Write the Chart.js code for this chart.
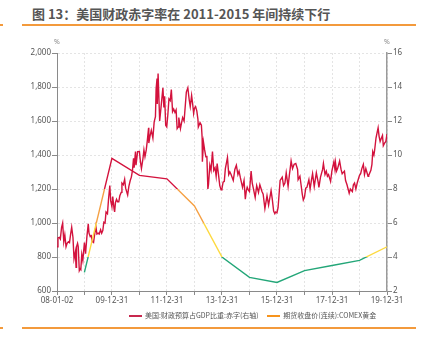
<!DOCTYPE html>
<html>
<head>
<meta charset="utf-8">
<script src="https://cdn.jsdelivr.net/npm/chart.js@4.4.1/dist/chart.umd.min.js"></script>
<style>
  body { margin: 0; background: #fff; }
  #wrap { position: relative; width: 426px; height: 350px; overflow: hidden; font-family: "Noto Sans CJK SC", "Noto Sans", sans-serif; }
  #title { position: absolute; left: 32px; top: 4px; font-size: 13px; font-weight: bold; color: #555; white-space: nowrap; }
  .rule { position: absolute; height: 1.5px; background: #f39a3c; }
  #my-chart { position: absolute; left: 0; top: 30px; }
  #legend { position: absolute; top: 309px; left: 129px; font-size: 7px; color: #555; white-space: nowrap; line-height: 12px; }
  #legend span.sw { display: inline-block; width: 13px; height: 2px; vertical-align: middle; margin-right: 3px; }
  #legend span.item { margin-right: 7px; }
</style>
</head>
<body>
<div id="wrap">
  <div id="title">图 13：美国财政赤字率在 2011-2015 年间持续下行</div>
  <div class="rule" style="left:0;top:24px;width:3px"></div>
  <div class="rule" style="left:22px;top:24px;width:394px"></div>
  <canvas id="my-chart" width="426" height="280"></canvas>
  <div id="legend">
    <span class="item"><span class="sw" style="background:#c8284e"></span>美国:财政预算占GDP比重:赤字(右轴)</span>
    <span class="item"><span class="sw" style="background:#f7941d"></span>期货收盘价(连续):COMEX黄金</span>
  </div>
  <div class="rule" style="left:0;top:327px;width:3px"></div>
  <div class="rule" style="left:22px;top:327px;width:394px"></div>
</div>
<script>
'use strict';

// *** Data ***

let tickDates = ['2008-01-02', '2008-12-31', '2009-12-31', '2010-12-31', '2011-12-31', '2012-12-31', '2013-12-31',
  '2014-12-31', '2015-12-31', '2016-12-31', '2017-12-31', '2018-12-31', '2019-12-31'];
let tickLabels = ['08-01-02', '08-12-31', '09-12-31', '10-12-31', '11-12-31', '12-12-31', '13-12-31',
  '14-12-31', '15-12-31', '16-12-31', '17-12-31', '18-12-31', '19-12-31'];

// deficit as % of GDP (right axis)
let deficitDates = ['2008-12-31', '2009-12-31', '2010-12-31', '2011-12-31', '2012-12-31', '2013-12-31',
  '2014-12-31', '2015-12-31', '2016-12-31', '2017-12-31', '2018-12-31', '2019-12-31'];
let deficitValues = [3.1, 9.8, 8.8, 8.6, 7.0, 4.0, 2.8, 2.5, 3.2, 3.5, 3.8, 4.6];

// COMEX gold close (left axis)
let goldDates = [
  '2008-01-02', '2008-01-15', '2008-02-01', '2008-02-15', '2008-03-03', '2008-03-17', '2008-04-01', '2008-04-15',
  '2008-05-01', '2008-05-15', '2008-06-02', '2008-06-16', '2008-07-01', '2008-07-15', '2008-08-01', '2008-08-15',
  '2008-09-02', '2008-09-11', '2008-09-17', '2008-10-01', '2008-10-10', '2008-10-24', '2008-11-03', '2008-11-13',
  '2008-11-26', '2008-12-10', '2008-12-31',
  '2009-01-15', '2009-02-02', '2009-02-20', '2009-03-02', '2009-03-18', '2009-04-01', '2009-04-15', '2009-05-01',
  '2009-05-15', '2009-06-01', '2009-06-15', '2009-07-01', '2009-07-15', '2009-08-03', '2009-08-17', '2009-09-01',
  '2009-09-15', '2009-10-01', '2009-10-14', '2009-11-02', '2009-11-16', '2009-12-03', '2009-12-15', '2009-12-31',
  '2010-01-11', '2010-01-28', '2010-02-05', '2010-02-16', '2010-03-02', '2010-03-16', '2010-04-01', '2010-04-15',
  '2010-05-03', '2010-05-13', '2010-06-01', '2010-06-18', '2010-07-01', '2010-07-28', '2010-08-13', '2010-08-31',
  '2010-09-15', '2010-09-30', '2010-10-14', '2010-10-22', '2010-11-09', '2010-11-16', '2010-12-07', '2010-12-31',
  '2011-01-14', '2011-01-27', '2011-02-15', '2011-03-01', '2011-03-15', '2011-04-01', '2011-04-15', '2011-05-02',
  '2011-05-05', '2011-05-20', '2011-06-07', '2011-06-28', '2011-07-15', '2011-08-01', '2011-08-10', '2011-08-22',
  '2011-08-25', '2011-09-05', '2011-09-26', '2011-10-05', '2011-10-14', '2011-11-08', '2011-11-21', '2011-12-01',
  '2011-12-15', '2011-12-29',
  '2012-01-13', '2012-01-27', '2012-02-13', '2012-02-28', '2012-03-15', '2012-03-30', '2012-04-16', '2012-05-01',
  '2012-05-15', '2012-05-30', '2012-06-06', '2012-06-28', '2012-07-13', '2012-07-27', '2012-08-15', '2012-08-31',
  '2012-09-14', '2012-10-04', '2012-10-22', '2012-11-05', '2012-11-23', '2012-12-07', '2012-12-20', '2012-12-31',
  '2013-01-15', '2013-01-31', '2013-02-15', '2013-02-20', '2013-03-15', '2013-04-02', '2013-04-12', '2013-04-15',
  '2013-04-30', '2013-05-15', '2013-05-31', '2013-06-14', '2013-06-27', '2013-07-05', '2013-07-23', '2013-08-08',
  '2013-08-27', '2013-09-13', '2013-09-30', '2013-10-15', '2013-10-28', '2013-11-15', '2013-12-02', '2013-12-19',
  '2013-12-31',
  '2014-01-15', '2014-01-31', '2014-02-14', '2014-03-14', '2014-03-31', '2014-04-15', '2014-05-01', '2014-05-30',
  '2014-06-20', '2014-07-10', '2014-07-31', '2014-08-15', '2014-09-02', '2014-09-30', '2014-10-20', '2014-11-06',
  '2014-11-20', '2014-12-01', '2014-12-15', '2014-12-31',
  '2015-01-22', '2015-02-06', '2015-02-20', '2015-03-17', '2015-04-06', '2015-04-30', '2015-05-18', '2015-06-15',
  '2015-07-01', '2015-07-24', '2015-08-21', '2015-09-11', '2015-10-14', '2015-10-30', '2015-11-17', '2015-12-03',
  '2015-12-15', '2015-12-31',
  '2016-01-15', '2016-02-11', '2016-03-10', '2016-03-28', '2016-04-15', '2016-05-02', '2016-05-27', '2016-06-15',
  '2016-06-24', '2016-07-06', '2016-07-25', '2016-08-15', '2016-09-06', '2016-09-30', '2016-10-07', '2016-10-31',
  '2016-11-15', '2016-12-01', '2016-12-15', '2016-12-31',
  '2017-01-16', '2017-02-01', '2017-02-27', '2017-03-15', '2017-04-03', '2017-04-17', '2017-05-09', '2017-06-06',
  '2017-06-30', '2017-07-10', '2017-07-31', '2017-08-28', '2017-09-08', '2017-09-29', '2017-10-16', '2017-10-31',
  '2017-11-15', '2017-12-12', '2017-12-29',
  '2018-01-25', '2018-02-08', '2018-02-15', '2018-03-01', '2018-03-15', '2018-04-11', '2018-04-30', '2018-05-15',
  '2018-06-14', '2018-06-29', '2018-07-18', '2018-08-16', '2018-08-31', '2018-09-27', '2018-10-11', '2018-10-26',
  '2018-11-13', '2018-12-03', '2018-12-31',
  '2019-01-15', '2019-01-31', '2019-02-20', '2019-03-07', '2019-03-25', '2019-04-23', '2019-05-02', '2019-05-31',
  '2019-06-14', '2019-06-25', '2019-07-10', '2019-07-19', '2019-08-07', '2019-08-23', '2019-09-04', '2019-09-17',
  '2019-10-01', '2019-10-14', '2019-11-01', '2019-11-12', '2019-11-29', '2019-12-16', '2019-12-31'
];
let goldValues = [
  860, 912, 915, 905, 975, 1000, 890, 930,
  860, 880, 890, 885, 935, 975, 915, 790,
  830, 740, 860, 880, 860, 720, 730, 725,
  815, 780, 885,
  820, 920, 995, 940, 920, 925, 890, 885,
  930, 980, 935, 940, 935, 960, 940, 955,
  1005, 1000, 1065, 1055, 1140, 1220, 1130, 1096,
  1155, 1085, 1065, 1120, 1140, 1125, 1125, 1160,
  1180, 1235, 1225, 1257, 1205, 1165, 1215, 1250,
  1270, 1310, 1380, 1325, 1420, 1340, 1420, 1421,
  1360, 1320, 1375, 1430, 1390, 1430, 1485, 1560,
  1470, 1510, 1545, 1500, 1595, 1625, 1790, 1850,
  1700, 1880, 1600, 1640, 1680, 1795, 1680, 1745,
  1575, 1565,
  1640, 1730, 1720, 1785, 1655, 1670, 1650, 1665,
  1555, 1565, 1620, 1555, 1590, 1620, 1600, 1690,
  1770, 1795, 1725, 1685, 1750, 1700, 1645, 1675,
  1685, 1660, 1610, 1565, 1590, 1575, 1500, 1360,
  1475, 1430, 1390, 1390, 1200, 1225, 1340, 1310,
  1420, 1310, 1325, 1275, 1350, 1285, 1220, 1195,
  1202,
  1240, 1245, 1320, 1385, 1285, 1300, 1285, 1250,
  1315, 1340, 1285, 1305, 1265, 1210, 1250, 1140,
  1190, 1210, 1195, 1185,
  1305, 1235, 1205, 1150, 1220, 1180, 1225, 1185,
  1170, 1085, 1160, 1105, 1190, 1140, 1070, 1055,
  1065, 1060,
  1090, 1250, 1270, 1220, 1235, 1295, 1215, 1290,
  1320, 1365, 1320, 1345, 1350, 1315, 1255, 1275,
  1225, 1170, 1135, 1152,
  1205, 1210, 1255, 1200, 1255, 1290, 1215, 1295,
  1240, 1210, 1270, 1315, 1350, 1285, 1305, 1275,
  1285, 1245, 1305,
  1360, 1315, 1355, 1305, 1320, 1365, 1315, 1290,
  1305, 1250, 1225, 1175, 1200, 1185, 1225, 1235,
  1200, 1240, 1280,
  1290, 1320, 1345, 1285, 1320, 1275, 1280, 1310,
  1345, 1420, 1400, 1425, 1500, 1535, 1560, 1510,
  1480, 1495, 1515, 1455, 1470, 1480, 1523
];

let leftTicks = [600, 800, 1000, 1200, 1400, 1600, 1800, 2000];
let rightTicks = [2, 4, 6, 8, 10, 12, 14, 16];

// *** Colors ***

let crimson = '#d3123d';
let orange = '#f5a043';
let yellow = '#fdd93f';
let green = '#23a678';

// *** Helpers ***

function toPoints(dates, values) {
  let pts = [];
  for (let i = 0; i < dates.length; i++) {
    pts.push({ x: Date.parse(dates[i]), y: values[i] });
  }
  return pts;
}

// piecewise color by deficit level: >8 red, 6-8 orange, 4-6 yellow, <4 green
function deficitGradient(context) {
  let chart = context.chart;
  if (!chart.chartArea) {
    return crimson;
  }
  let sc = chart.scales.y1;
  let top = sc.getPixelForValue(16);
  let bot = sc.getPixelForValue(2);
  let g = chart.ctx.createLinearGradient(0, top, 0, bot);
  let f = (v) => (16 - v) / 14;
  g.addColorStop(0, crimson);
  g.addColorStop(f(8), crimson);
  g.addColorStop(f(8), orange);
  g.addColorStop(f(6), orange);
  g.addColorStop(f(6), yellow);
  g.addColorStop(f(4), yellow);
  g.addColorStop(f(4), green);
  g.addColorStop(1, green);
  return g;
}

// draws the "%" unit above each y axis
let unitPlugin = {
  id: 'units',
  afterDraw(chart) {
    let c = chart.ctx;
    c.save();
    c.fillStyle = '#888';
    c.font = '7px "Noto Sans"';
    c.textAlign = 'center';
    c.textBaseline = 'middle';
    c.fillText('%', chart.scales.y.right, 12);
    c.fillText('%', chart.scales.y1.left, 12);
    c.restore();
  }
};

let tickFont = { family: '"Noto Sans"', size: 8 };
let axisGray = '#8a8a8a';

// *** Chart ***

let ctx = document.getElementById('my-chart');

new Chart(ctx, {
  type: 'line',
  data: {
    datasets: [
      {
        label: '美国:财政预算占GDP比重:赤字(右轴)',
        data: toPoints(deficitDates, deficitValues),
        yAxisID: 'y1',
        borderColor: deficitGradient,
        borderWidth: 1.4,
        pointRadius: 0,
        tension: 0,
        order: 0
      },
      {
        label: '期货收盘价(连续):COMEX黄金',
        data: toPoints(goldDates, goldValues),
        yAxisID: 'y',
        borderColor: crimson,
        borderWidth: 1.4,
        pointRadius: 0,
        tension: 0,
        order: 1
      }
    ]
  },
  options: {
    responsive: false,
    animation: false,
    layout: { padding: { top: 23, left: 0, right: 0, bottom: 0 } },
    plugins: {
      legend: { display: false },
      tooltip: { enabled: false }
    },
    scales: {
      x: {
        type: 'linear',
        min: Date.parse(tickDates[0]),
        max: Date.parse(tickDates[tickDates.length - 1]),
        afterBuildTicks: (scale) => {
          scale.ticks = tickDates.map((d) => ({ value: Date.parse(d) }));
        },
        afterFit: (scale) => { scale.height = 19; },
        ticks: {
          autoSkip: false,
          maxRotation: 0,
          padding: 1,
          color: '#555',
          font: tickFont,
          callback: (val, i) => (i % 2 === 0 ? tickLabels[i] : '')
        },
        grid: { color: '#e4e4e4', tickColor: axisGray, tickLength: 4, tickBorderDash: [1, 0] },
        border: { color: axisGray, width: 1, dash: [2, 2] }
      },
      y: {
        position: 'left',
        min: 600,
        max: 2000,
        afterBuildTicks: (scale) => {
          scale.ticks = leftTicks.map((v) => ({ value: v }));
        },
        afterFit: (scale) => { scale.width = 57; },
        ticks: {
          padding: 1,
          color: '#555',
          font: tickFont,
          callback: (val) => val.toLocaleString('en-US')
        },
        grid: { color: '#e4e4e4', tickColor: axisGray, tickLength: 5, tickBorderDash: [1, 0] },
        border: { color: axisGray, width: 1, dash: [2, 2] }
      },
      y1: {
        position: 'right',
        min: 2,
        max: 16,
        afterBuildTicks: (scale) => {
          scale.ticks = rightTicks.map((v) => ({ value: v }));
        },
        afterFit: (scale) => { scale.width = 39; },
        ticks: { padding: 1, color: '#555', font: tickFont },
        grid: { drawOnChartArea: false, tickColor: axisGray, tickLength: 5 },
        border: { color: '#9a9a9a', width: 1.5 }
      }
    }
  },
  plugins: [unitPlugin]
});
</script>
</body>
</html>
